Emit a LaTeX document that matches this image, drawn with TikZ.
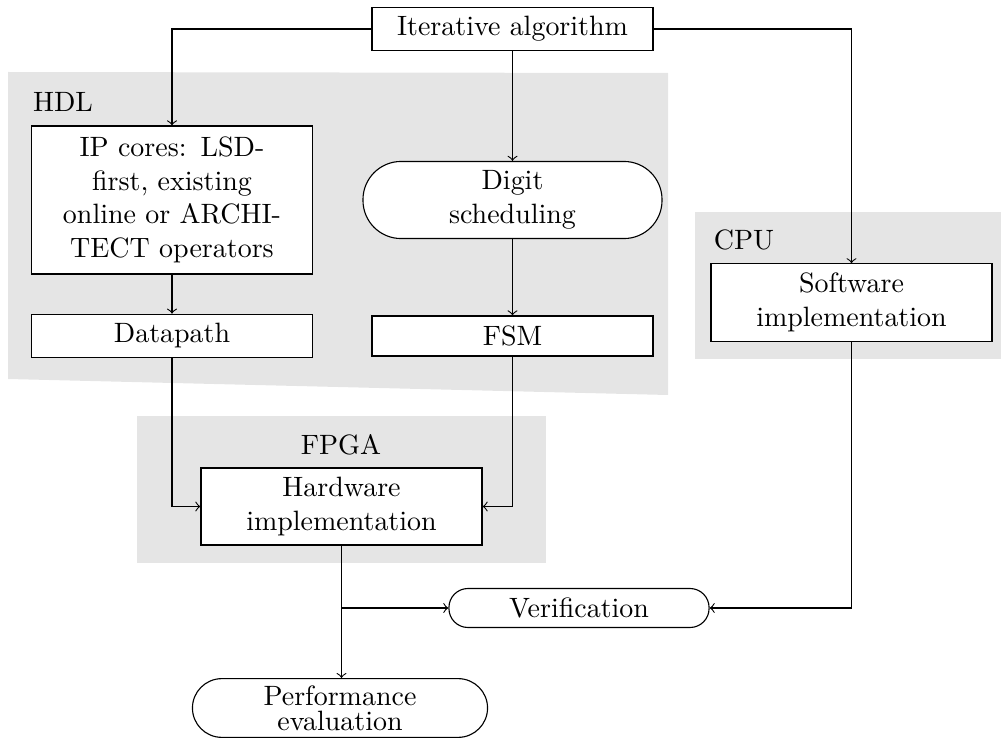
\documentclass[tikz,border=0pt]{standalone}
\usetikzlibrary{calc}
\begin{document}
\begin{tikzpicture}[x=0.3575pt,y=-0.3575pt,
 box/.style={draw,fill=white,align=center,text width=93.8pt,inner sep=3.33pt},
 pill/.style={draw,fill=white,align=center,rounded corners=#1},
 lbl/.style={inner sep=0pt}]
\useasboundingbox (0,0) rectangle (1001,745);
% backgrounds
\fill[black!10] (8,72) -- (668,73) -- (668,395) -- (8,379) -- cycle;
\fill[black!10] (695,212) rectangle (1001,359);
\fill[black!10] (137,416) rectangle (546,563);
% labels
\node[lbl] (hdl) at (63,102) {HDL};
\node[lbl] (cpu) at (744,240) {CPU};
\node[lbl] (fpga) at (341,445) {FPGA};
% nodes
\node[box] (iter) at (512.5,29) {Iterative algorithm};
\node[box,minimum height=52.9pt] (ip) at (172,200) {IP cores: LSD-\\first, existing\\online or ARCHI-\\TECT operators};
\node[pill=13.6pt,minimum width=106.9pt,minimum height=27.2pt,text width=60pt] (digit) at (512.5,200) {Digit\\scheduling};
\node[box,minimum height=14.3pt] (dp) at (172,336) {Datapath};
\node[box,minimum height=14.3pt] (fsm) at (512.5,336) {FSM};
\node[box,minimum height=25.4pt] (sw) at (851.5,302.5) {Software\\implementation};
\node[box,minimum height=25.4pt] (hw) at (341.5,506.5) {Hardware\\implementation};
\node[pill=6.8pt,minimum width=93pt,minimum height=13.6pt,text width=60pt] (ver) at (579,608) {Verification};
\node[pill=10.5pt,minimum width=105.5pt,minimum height=21pt,inner sep=1pt,text width=60pt] (perf) at (340,708) {Performance\\[-3.2pt]evaluation};
% connectors
\draw[->] (iter.west) -| (ip.north);
\draw[->] (iter.south) -- (digit.north);
\draw[->] (iter.east) -| (sw.north);
\draw[->] (ip) -- (dp);
\draw[->] (digit) -- (fsm);
\draw[->] (dp.south) |- (hw.west);
\draw[->] (fsm.south) |- (hw.east);
\draw[->] (hw.south) -- (hw.south |- perf.north);
\coordinate (j) at (hw.south |- ver.west);
\draw[->] (j) -- (ver.west);
\draw[->] (sw.south) |- (ver.east);
\end{tikzpicture}
\end{document}
